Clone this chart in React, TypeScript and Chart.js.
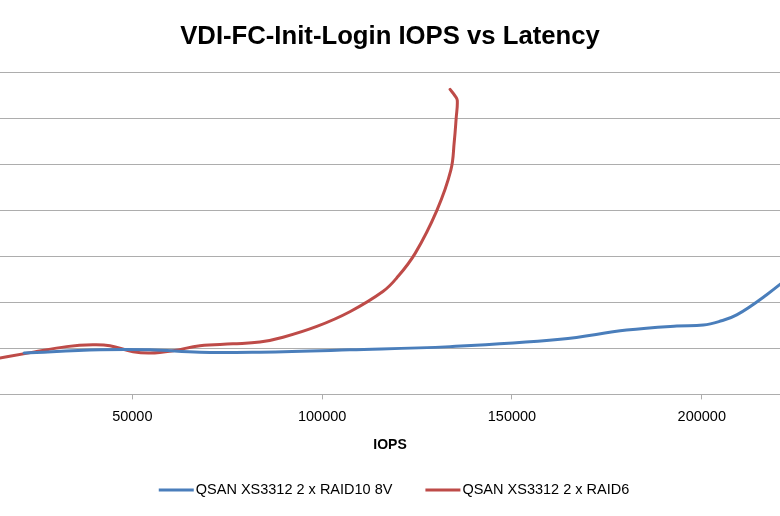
import React, { useEffect, useRef } from "react";
import { Chart, registerables } from "chart.js";

Chart.register(...registerables);

const chartTitle = "VDI-FC-Init-Login IOPS vs Latency";
const xAxisTitle = "IOPS";
const seriesNames = ["QSAN XS3312 2 x RAID10 8V", "QSAN XS3312 2 x RAID6"];
const seriesColors = ["#4A7EBB", "#BE4B48"];

// QSAN XS3312 2 x RAID10 8V
const raid10Iops = [21500, 41500, 54700, 67800, 83600, 107300, 133700, 162700, 180200, 193400, 200400, 204500, 209200, 217100, 225900];
const raid10Latency = [0.9, 0.97, 0.97, 0.915, 0.92, 0.97, 1.04, 1.2, 1.4, 1.49, 1.51, 1.585, 1.73, 2.17, 2.75];

// QSAN XS3312 2 x RAID6
const raid6Iops = [10000, 23900, 32700, 39600, 44100, 50200, 54700, 60700, 67800, 76500, 83600, 89700, 98600, 107300, 116000, 119600, 124500, 130200, 133900, 134800, 135300, 135600, 135000, 133700];
const raid6Latency = [0.72, 0.92, 1.04, 1.08, 1.06, 0.93, 0.9, 0.95, 1.06, 1.1, 1.14, 1.245, 1.48, 1.8, 2.24, 2.53, 3.07, 4.0, 4.88, 5.5, 6.01, 6.4, 6.5, 6.64];

const xTickValues = [50000, 100000, 150000, 200000];
const xMin = 15150;
const xMax = 220600;
const yMin = 0;
const yMax = 7;
const yStep = 1;

const FONT = '"Liberation Sans", Arial, sans-serif';
const GRID = "#ADADAD";

const bottomLegend = {
  id: "bottomLegend",
  afterDraw(chart: any) {
    const ctx = chart.ctx as CanvasRenderingContext2D;
    ctx.save();
    ctx.font = `14.5px ${FONT}`;
    const sample = 35;
    const gap = 2;
    const itemGap = 33;
    const ds = chart.data.datasets;
    const widths = ds.map((d: any) => ctx.measureText(d.label).width);
    const total =
      widths.reduce((a: number, w: number) => a + sample + gap + w, 0) +
      itemGap * (ds.length - 1);
    let x = (chart.width - total) / 2 + 4;
    const y = chart.height - 26;
    ds.forEach((d: any, i: number) => {
      ctx.strokeStyle = d.borderColor;
      ctx.lineWidth = 3;
      ctx.lineCap = "butt";
      ctx.beginPath();
      ctx.moveTo(x, y);
      ctx.lineTo(x + sample, y);
      ctx.stroke();
      ctx.fillStyle = "#000";
      ctx.textBaseline = "middle";
      ctx.textAlign = "left";
      ctx.fillText(d.label, x + sample + gap, y);
      x += sample + gap + widths[i] + itemGap;
    });
    ctx.restore();
  },
};

export default function App() {
  const ref = useRef<HTMLCanvasElement | null>(null);

  useEffect(() => {
    if (!ref.current) return;
    const chart = new Chart(ref.current, {
      type: "scatter",
      data: {
        datasets: [
          {
            label: seriesNames[0],
            data: raid10Iops.map((x, i) => ({ x, y: raid10Latency[i] })),
            borderColor: seriesColors[0],
            backgroundColor: seriesColors[0],
            showLine: true,
            borderWidth: 3,
            pointRadius: 0,
            tension: 0.4,
            borderCapStyle: "round",
            borderJoinStyle: "round",
          },
          {
            label: seriesNames[1],
            data: raid6Iops.map((x, i) => ({ x, y: raid6Latency[i] })),
            borderColor: seriesColors[1],
            backgroundColor: seriesColors[1],
            showLine: true,
            borderWidth: 3,
            pointRadius: 0,
            tension: 0.4,
            borderCapStyle: "round",
            borderJoinStyle: "round",
          },
        ],
      },
      options: {
        animation: false,
        responsive: false,
        layout: { padding: { left: 0, right: 0, top: 0, bottom: 62.4 } },
        plugins: {
          legend: { display: false },
          tooltip: { enabled: false },
          title: {
            display: true,
            text: chartTitle,
            color: "#000",
            font: { family: FONT, size: 25.7, weight: "bold" },
            padding: { top: 21, bottom: 21 },
          },
        },
        scales: {
          x: {
            type: "linear",
            min: xMin,
            max: xMax,
            afterBuildTicks: (scale: any) => {
              scale.ticks = xTickValues.map((value) => ({ value }));
            },
            grid: {
              drawOnChartArea: false,
              drawTicks: true,
              tickLength: 5,
              color: GRID,
            },
            border: { display: true, color: GRID, width: 1 },
            ticks: {
              padding: 9,
              color: "#000",
              font: { family: FONT, size: 14.5 },
              maxRotation: 0,
              autoSkip: false,
              callback: (v: any) => String(v),
            },
            title: {
              display: true,
              text: xAxisTitle,
              color: "#000",
              font: { family: FONT, size: 14, weight: "bold" },
              padding: { top: 2, bottom: 0 },
            },
          },
          y: {
            type: "linear",
            min: yMin,
            max: yMax,
            ticks: { display: false, stepSize: yStep },
            grid: { color: GRID, drawTicks: false, tickLength: 0 },
            border: { display: false },
          },
        },
      },
      plugins: [bottomLegend],
    });
    return () => chart.destroy();
  }, []);

  return (
    <div style={{ position: "fixed", left: 0, top: 0, width: 780, height: 516, background: "#fff" }}>
      <canvas ref={ref} width={780} height={516} style={{ display: "block" }} />
    </div>
  );
}
